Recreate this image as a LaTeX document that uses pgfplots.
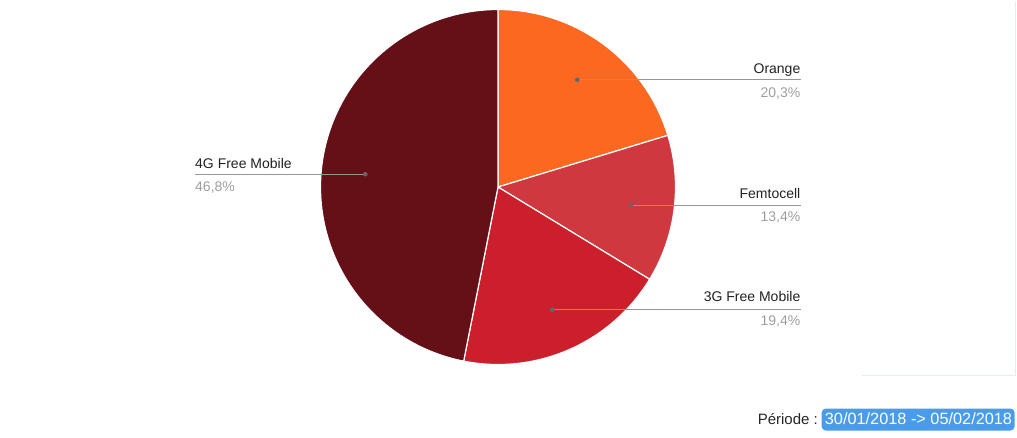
\documentclass[border=0pt]{standalone}
\usepackage{pgfplots}
\pgfplotsset{compat=1.18}
\usepackage{fontspec}
\setmainfont{Liberation Sans}
\definecolor{cOrange}{RGB}{253,104,33}
\definecolor{cFemto}{RGB}{208,56,64}
\definecolor{cThreeG}{RGB}{203,32,44}
\definecolor{cFourG}{RGB}{101,15,22}
\definecolor{leader}{RGB}{150,150,150}
\definecolor{pctgray}{RGB}{158,158,158}
\definecolor{periodblue}{RGB}{74,155,234}
\definecolor{frame}{RGB}{228,236,245}

% shares in percent, clockwise from 12 o'clock
\def\pO{20.3}
\def\pF{13.4}
\def\pT{19.4}
\def\pG{46.8}
\pgfmathsetmacro{\aA}{3.6*\pO}
\pgfmathsetmacro{\aB}{\aA+3.6*\pF}
\pgfmathsetmacro{\aC}{\aB+3.6*\pT}

\begin{document}
\begin{tikzpicture}
\begin{axis}[
  width=1017pt, height=437pt, scale only axis,
  xmin=0, xmax=1017, ymin=0, ymax=437,
  y dir=reverse,
  hide axis, clip=false,
]
\path (axis cs:0,0) rectangle (axis cs:1017,437);

% pie sectors
\addplot[fill=cOrange, draw=white, line width=1.2pt, domain=0:\aA, samples=80, variable=\t]
  ({498+177.5*sin(\t)},{186.5-177.5*cos(\t)}) -- (axis cs:498,186.5) -- cycle;
\addplot[fill=cFemto, draw=white, line width=1.2pt, domain=\aA:\aB, samples=60, variable=\t]
  ({498+177.5*sin(\t)},{186.5-177.5*cos(\t)}) -- (axis cs:498,186.5) -- cycle;
\addplot[fill=cThreeG, draw=white, line width=1.2pt, domain=\aB:\aC, samples=80, variable=\t]
  ({498+177.5*sin(\t)},{186.5-177.5*cos(\t)}) -- (axis cs:498,186.5) -- cycle;
\addplot[fill=cFourG, draw=white, line width=1.2pt, domain=\aC:360, samples=150, variable=\t]
  ({498+177.5*sin(\t)},{186.5-177.5*cos(\t)}) -- (axis cs:498,186.5) -- cycle;

% leader lines
\addplot[leader, line width=1pt] coordinates {(577.3,79.3) (800.5,79.3)};
\addplot[leader, line width=1pt] coordinates {(631,204.7) (800.5,204.7)};
\addplot[leader, line width=1pt] coordinates {(552.3,309.3) (800.5,309.3)};
\addplot[leader, line width=1pt] coordinates {(195,173.7) (365.3,173.7)};
\addplot[only marks, mark=*, mark size=2pt, color=gray!80!black]
  coordinates {(577.3,79.3) (631,204.7) (552.3,309.3) (365.3,173.7)};

% labels
\begin{scope}[every node/.style={font=\fontsize{14}{16}\selectfont, inner sep=0pt}]
\node[anchor=base east, text=black!87] at (axis cs:800.5,72.5) {Orange};
\node[anchor=base east, text=pctgray] at (axis cs:800.5,96.5) {20,3\%};
\node[anchor=base east, text=black!87] at (axis cs:800.5,198.3) {Femtocell};
\node[anchor=base east, text=pctgray] at (axis cs:800.5,221) {13,4\%};
\node[anchor=base east, text=black!87] at (axis cs:800.5,301) {3G Free Mobile};
\node[anchor=base east, text=pctgray] at (axis cs:800.5,325) {19,4\%};
\node[anchor=base west, text=black!87] at (axis cs:195,167.7) {4G Free Mobile};
\node[anchor=base west, text=pctgray] at (axis cs:195,190.5) {46,8\%};
\end{scope}

% faint frame of the chart area
\draw[frame, line width=1pt] (axis cs:862,375) -- (axis cs:1015,375) -- (axis cs:1015,0);

% period box
\fill[periodblue, rounded corners=4pt] (axis cs:821.7,408) rectangle (axis cs:1014.5,430);
\node[anchor=base east, inner sep=0pt, font=\fontsize{15}{17}\selectfont, text=black!85]
  at (axis cs:818,424) {Période :};
\node[anchor=base, inner sep=0pt, font=\fontsize{16.3}{18}\selectfont, text=white]
  at (axis cs:918.5,424) {30/01/2018 -> 05/02/2018};
\end{axis}
\end{tikzpicture}
\end{document}
